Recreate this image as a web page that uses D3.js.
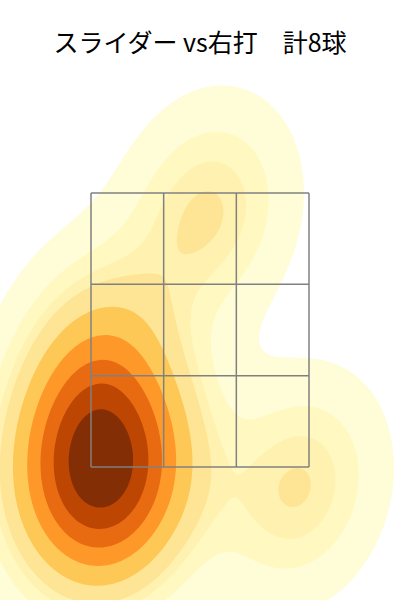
<!DOCTYPE html>
<html lang="ja">
<head>
<meta charset="utf-8">
<script src="https://d3js.org/d3.v7.min.js"></script>
<style>
  body { margin: 0; background: #fff; }
  svg { display: block; }
  .title { font-family: "Noto Sans CJK JP", sans-serif; font-size: 25px; fill: #000; }
  .zone { fill: none; stroke: #808080; stroke-width: 1.5px; }
</style>
</head>
<body>
<svg id="chart" width="400" height="600"></svg>
<script>
// slider pitch locations vs right-handed batters (ft, catcher view)
const plateX = [0.05, 0.67, -0.72, -0.72, -0.89, -0.48, -0.74, -0.54]
const plateZ = [3.36, 1.35, 2.35, 1.84, 1.59, 1.52, 1.30, 1.15]
// strike zone split in 3x3
const zoneX = [-0.75, -0.25, 0.25, 0.75]
const zoneZ = [1.5, 2.1667, 2.8333, 3.5]
const title = "スライダー vs右打　計8球"

const svg = d3.select("#chart")
const width = 400, height = 600

let x = d3.scaleLinear().domain([-0.75, 0.75]).range([91, 309])
let y = d3.scaleLinear().domain([1.5, 3.5]).range([467, 193])

// gaussian kde like scipy (scott factor, full covariance)
const n = plateX.length
const mx = d3.mean(plateX), mz = d3.mean(plateZ)
let cxx = 0, czz = 0, cxz = 0
for (let i = 0; i < n; i++) {
  cxx += (plateX[i] - mx) ** 2
  czz += (plateZ[i] - mz) ** 2
  cxz += (plateX[i] - mx) * (plateZ[i] - mz)
}
const f2 = Math.pow(n, -1 / 3)
cxx = cxx / (n - 1) * f2; czz = czz / (n - 1) * f2; cxz = cxz / (n - 1) * f2
const det = cxx * czz - cxz * cxz
const ixx = czz / det, izz = cxx / det, ixz = -cxz / det
const norm = 1 / (2 * Math.PI * Math.sqrt(det) * n)

// grid like seaborn (cut = 3, gridsize = 200)
const gs = 200
const bwx = Math.sqrt(cxx), bwz = Math.sqrt(czz)
const x0 = d3.min(plateX) - 3 * bwx, x1 = d3.max(plateX) + 3 * bwx
const z0 = d3.min(plateZ) - 3 * bwz, z1 = d3.max(plateZ) + 3 * bwz
const dx = (x1 - x0) / (gs - 1), dz = (z1 - z0) / (gs - 1)
const values = new Float64Array(gs * gs)
for (let j = 0; j < gs; j++) {
  for (let i = 0; i < gs; i++) {
    const gx = x0 + i * dx, gz = z0 + j * dz
    let s = 0
    for (let k = 0; k < n; k++) {
      const ux = gx - plateX[k], uz = gz - plateZ[k]
      s += Math.exp(-0.5 * (ux * ux * ixx + 2 * ux * uz * ixz + uz * uz * izz))
    }
    values[j * gs + i] = s * norm
  }
}

// iso-proportion levels
const props = d3.range(10).map(i => 0.05 + i * 0.95 / 9)
const sorted = Array.from(values).sort((a, b) => b - a)
const total = d3.sum(sorted)
let acc = 0
const cum = sorted.map(v => (acc += v) / total)
const levels = props.map(p => sorted[Math.min(d3.bisectLeft(cum, 1 - p), sorted.length - 1)])

const ylorbr = d3.scaleLinear()
  .domain(d3.range(9).map(i => i / 8))
  .range(["#ffffe5", "#fff7bc", "#fee391", "#fec44f", "#fe9929", "#ec7014", "#cc4c02", "#993404", "#662506"])
const lo = levels[0], hi = levels[levels.length - 1]
const bandColor = i => ylorbr(((levels[i] + levels[i + 1]) / 2 - lo) / (hi - lo))

const contours = d3.contours().size([gs, gs]).thresholds(levels.slice(0, 9))(values)
const proj = d3.geoTransform({
  point: function(px, py) {
    this.stream.point(x(x0 + (px - 0.5) * dx), y(z0 + (py - 0.5) * dz))
  }
})
const path = d3.geoPath(proj)

svg.append("g")
  .selectAll("path")
  .data(contours)
  .join("path")
  .attr("d", path)
  .attr("fill", (d, i) => bandColor(i))

// strike zone
const zone = svg.append("g")
zone.selectAll(".vline").data(zoneX).join("line")
  .attr("class", "zone")
  .attr("x1", d => x(d)).attr("x2", d => x(d))
  .attr("y1", y(zoneZ[0])).attr("y2", y(zoneZ[3]))
zone.selectAll(".hline").data(zoneZ).join("line")
  .attr("class", "zone")
  .attr("y1", d => y(d)).attr("y2", d => y(d))
  .attr("x1", x(zoneX[0])).attr("x2", x(zoneX[3]))

svg.append("text")
  .attr("class", "title")
  .attr("x", width / 2)
  .attr("y", 52)
  .attr("text-anchor", "middle")
  .text(title)
</script>
</body>
</html>
